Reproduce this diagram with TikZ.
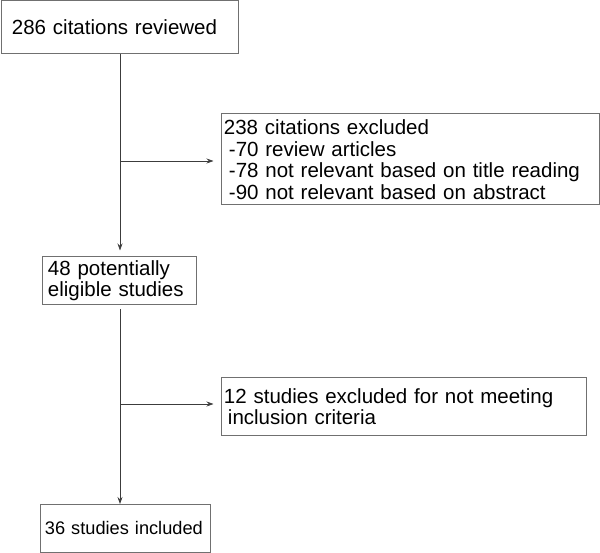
\documentclass[tikz,border=0pt]{standalone}
\usepackage{fontspec}
\setmainfont{Liberation Sans}
\usetikzlibrary{arrows.meta,calc}
\definecolor{boxgray}{HTML}{707070}
\definecolor{linegray}{HTML}{3C3C3C}
\tikzset{
  stage/.style={draw=boxgray, line width=0.9pt, anchor=north west, align=left,
    inner ysep=0pt, font=\fontsize{20.5}{21.5}\selectfont},
  flow/.style={draw=linegray, line width=0.8pt, -{Stealth[length=7pt,width=5pt]}},
}
\begin{document}
\begin{tikzpicture}[x=1pt,y=1pt]
  \useasboundingbox (0,0) rectangle (600,-553);
  \node (reviewed) [stage, inner xsep=11pt, text width=215pt, minimum height=53pt]
    at (0.5,-0.5) {286 citations reviewed};
  \node (excl1) [stage, inner xsep=3pt, text width=372pt, minimum height=91pt]
    at (220.5,-113.5) {238 citations excluded\\
      \hspace*{5pt}-70 review articles\\
      \hspace*{5pt}-78 not relevant based on title reading\\
      \hspace*{5pt}-90 not relevant based on abstract};
  \node (eligible) [stage, inner xsep=6pt, text width=142pt, minimum height=48pt]
    at (41.5,-256.5) {48 potentially\\eligible studies};
  \node (excl2) [stage, inner xsep=3pt, text width=359pt, minimum height=57pt]
    at (220.5,-377.5) {12 studies excluded for not meeting\\
      \hspace*{4pt}inclusion criteria};
  \node (included) [stage, inner xsep=5pt, text width=160pt, minimum height=48pt,
    font=\fontsize{18.2}{20}\selectfont]
    at (39.5,-504) {\mbox{36 studies included}};
  \coordinate (j1) at (120,-161);
  \coordinate (j2) at (120,-404);
  \draw[flow, shorten >=6pt] (reviewed.south -| j1) -- (eligible.north -| j1);
  \draw[flow, shorten >=7pt] (j1) -- (excl1.west |- j1);
  \draw[flow, shorten <=4pt] (eligible.south -| j2) -- (included.north -| j2);
  \draw[flow, shorten >=7pt] (j2) -- (excl2.west |- j2);
\end{tikzpicture}
\end{document}
